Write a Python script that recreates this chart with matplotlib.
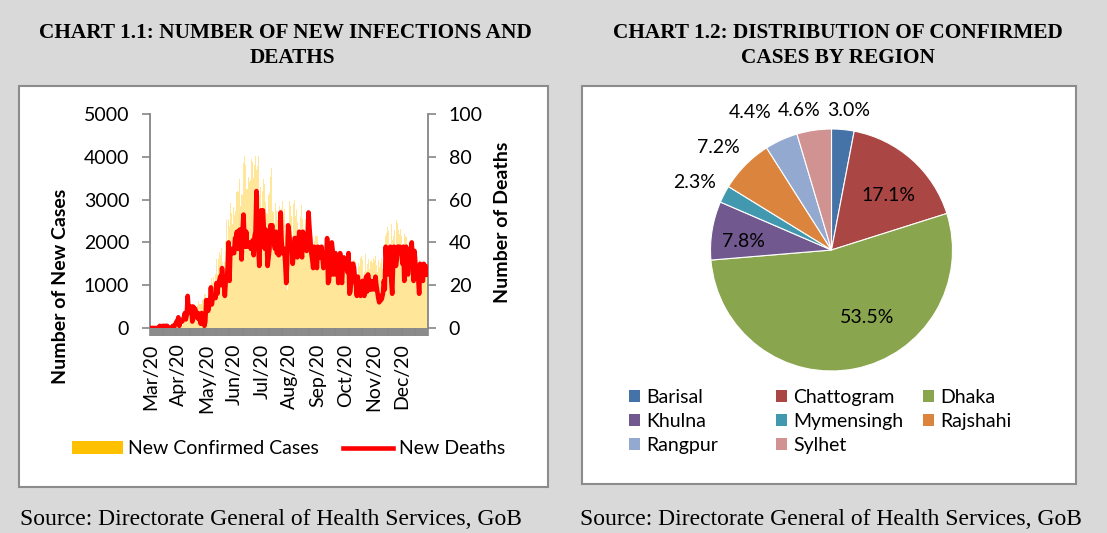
import numpy as np
import matplotlib
matplotlib.use("Agg")
import matplotlib.pyplot as plt
from matplotlib.patches import Rectangle, Patch
from matplotlib.lines import Line2D

plt.rcParams['font.family'] = ['Lato', 'DejaVu Sans']

# ---------------- data ----------------
month_labels = ["Mar/20", "Apr/20", "May/20", "Jun/20", "Jul/20",
                "Aug/20", "Sep/20", "Oct/20", "Nov/20", "Dec/20"]

cases_mar = [3, 0, 0, 0, 0, 0, 2, 0, 3, 2, 4, 3, 3, 7, 3, 6, 6, 0, 5, 4, 0, 0, 1, 2]
cases_apr = [3, 2, 5, 9, 18, 35, 41, 54, 112, 94, 58, 139, 182, 209, 219, 341, 266, 306, 312, 492,
             434, 390, 414, 503, 309, 418, 497, 549, 641, 564]
cases_may = [571, 552, 665, 688, 786, 790, 706, 709, 636, 887, 1034, 969, 1162, 1041, 1202, 930, 1273,
             1602, 1251, 1617, 1773, 1694, 1873, 1532, 1975, 1166, 1541, 2029, 2523, 1764, 2545]
cases_jun = [2381, 2911, 2695, 2423, 2828, 2635, 2743, 2735, 3171, 3190, 3187, 3471, 2856, 3141, 3099,
             3862, 4008, 3803, 3243, 3240, 3531, 3480, 3412, 3462, 3946, 3868, 3504, 3809, 4014, 3682]
cases_jul = [3775, 4019, 3114, 3288, 2738, 3201, 3027, 3489, 3360, 2949, 2686, 2666, 3099, 3163, 3533,
             3733, 2733, 2709, 2459, 2928, 3057, 2744, 2520, 2548, 2856, 2520, 2772, 2960, 2695, 2772, 2199]
cases_aug = [1356, 887, 1918, 2654, 2977, 2851, 2611, 1788, 2907, 2996, 2617, 2766, 2487, 1728, 2024,
             2595, 2868, 2747, 2547, 2265, 1935, 2545, 2485, 2545, 2519, 2211, 1897, 1950, 2131, 1950, 2024]
cases_sep = [2582, 2158, 2148, 2141, 1950, 1792, 1827, 1892, 1701, 1812, 1892, 1792, 1476, 1282, 1724,
             1615, 1615, 1593, 1544, 1557, 1705, 1666, 1640, 1488, 1407, 1182, 1502, 1488, 1488, 1436]
cases_oct = [1396, 1125, 1275, 1293, 1537, 1442, 1379, 1392, 1182, 1215, 1199, 1589, 1595, 1601, 1547,
             1100, 1244, 1523, 1458, 1637, 1692, 1586, 1114, 1308, 1735, 1335, 1493, 1469, 1604, 1370, 1568]
cases_nov = [1568, 1517, 1637, 1600, 1680, 1474, 1312, 1589, 1436, 1517, 1646, 1545, 1383, 1537, 1837,
             2139, 2212, 2364, 2275, 1847, 1699, 2419, 2060, 2156, 2293, 1966, 1532, 2525, 2444, 2293]
cases_dec = [2198, 2316, 2158, 1604, 1652, 2191, 2153, 2122, 1895, 1895, 1294, 1590, 1908, 1823, 1541,
             1362, 1584, 1329, 1655, 1318, 1423, 1584, 1394, 1198, 1222, 1300, 1480, 1275, 1250, 1411, 1314]

deaths_mar = [0, 0, 0, 0, 0, 0, 0, 0, 0, 0, 1, 0, 0, 1, 1, 0, 1, 1, 1, 0, 0, 0, 0, 0]
deaths_apr = [1, 0, 1, 2, 3, 3, 5, 1, 3, 3, 3, 4, 5, 7, 4, 6, 15, 9, 10, 7,
              10, 3, 10, 7, 9, 5, 7, 7, 4, 5]
deaths_may = [2, 7, 2, 4, 1, 3, 13, 13, 8, 11, 11, 19, 11, 14, 15, 15, 14, 21, 16, 21,
              22, 24, 20, 28, 21, 21, 15, 22, 23, 28, 40]
deaths_jun = [22, 37, 37, 35, 35, 35, 42, 42, 45, 37, 37, 46, 44, 32, 45, 53, 43, 38, 45, 38,
              39, 40, 39, 37, 39, 41, 34, 43, 45, 64]
deaths_jul = [41, 38, 29, 42, 55, 55, 55, 46, 37, 46, 41, 29, 33, 37, 48, 46, 48, 40, 39, 37,
              45, 35, 37, 34, 35, 54, 41, 35, 35, 37, 30]
deaths_aug = [21, 30, 48, 45, 40, 38, 38, 30, 35, 42, 42, 42, 33, 38, 45, 42, 36, 33, 45, 42,
              40, 38, 36, 42, 54, 47, 41, 35, 32, 28, 38]
deaths_sep = [32, 35, 28, 38, 36, 33, 35, 38, 33, 28, 30, 35, 33, 42, 21, 22, 30, 25, 40, 36,
              25, 30, 35, 25, 33, 21, 30, 35, 25, 21]
deaths_oct = [30, 33, 28, 31, 30, 26, 35, 16, 17, 24, 30, 30, 28, 22, 20, 15, 24, 18, 21, 15,
              20, 22, 17, 15, 22, 24, 17, 25, 20, 18, 22]
deaths_nov = [18, 20, 22, 18, 24, 20, 17, 14, 12, 15, 13, 14, 16, 22, 18, 38, 30, 36, 25, 30,
              38, 22, 16, 30, 38, 33, 29, 32, 38, 36]
deaths_dec = [38, 35, 37, 30, 38, 22, 30, 38, 33, 25, 30, 32, 36, 40, 33, 22, 36, 30, 25, 28,
              23, 16, 30, 29, 25, 22, 30, 25, 29, 27, 25]

regions = ["Barisal", "Chattogram", "Dhaka", "Khulna", "Mymensingh", "Rajshahi", "Rangpur", "Sylhet"]
shares = [3.0, 17.1, 53.5, 7.8, 2.3, 7.2, 4.4, 4.6]
region_colors = ["#4572A7", "#AA4643", "#89A54E", "#71588F", "#4198AF", "#DB843D", "#93A9CF", "#D19392"]

cases = np.array(cases_mar + cases_apr + cases_may + cases_jun + cases_jul +
                 cases_aug + cases_sep + cases_oct + cases_nov + cases_dec)
deaths = np.array(deaths_mar + deaths_apr + deaths_may + deaths_jun + deaths_jul +
                  deaths_aug + deaths_sep + deaths_oct + deaths_nov + deaths_dec)
days = np.arange(len(cases))

# ---------------- figure ----------------
W, H = 1107, 533
fig = plt.figure(figsize=(W / 100, H / 100), dpi=100, facecolor='#d9d9d9')


def fx(px):
    return px / W


def fy(py):
    return 1 - py / H


for (x0, y0, x1, y1) in [(19, 86, 548, 487), (582, 86, 1076, 484)]:
    fig.patches.append(Rectangle((fx(x0), fy(y1)), (x1 - x0) / W, (y1 - y0) / H,
                                 transform=fig.transFigure, facecolor='white',
                                 edgecolor='#8c8c8c', linewidth=1.5, zorder=-5))

serif = 'Liberation Serif'
tfs = 15.3
fig.text(fx(285), fy(33), 'CHART 1.1: NUMBER OF NEW INFECTIONS AND', ha='center', va='center',
         family=serif, weight='bold', fontsize=tfs)
fig.text(fx(292), fy(58), 'DEATHS', ha='center', va='center', family=serif, weight='bold', fontsize=tfs)
fig.text(fx(838), fy(33), 'CHART 1.2: DISTRIBUTION OF CONFIRMED', ha='center', va='center',
         family=serif, weight='bold', fontsize=tfs)
fig.text(fx(838), fy(58), 'CASES BY REGION', ha='center', va='center', family=serif, weight='bold',
         fontsize=tfs)
fig.text(fx(20), fy(525), 'Source: Directorate General of Health Services, GoB', ha='left',
         va='baseline', family=serif, fontsize=17)
fig.text(fx(580), fy(525), 'Source: Directorate General of Health Services, GoB', ha='left',
         va='baseline', family=serif, fontsize=17)

# ---------------- chart 1 ----------------
axc = '#868686'
ax = fig.add_axes([fx(150), fy(328), (428 - 150) / W, (328 - 114) / H])
ax.set_facecolor('none')
ax.bar(days, cases, width=1.0, color='#FFE699', linewidth=0, zorder=1)
ax.set_xlim(-0.5, len(days) - 0.5)
ax.set_ylim(0, 5000)
ax.set_yticks(range(0, 5001, 1000))
ax.set_xticks(days[::30][:len(month_labels)])
ax.set_xticklabels(month_labels, rotation=90)
ax.set_xticks(days, minor=True)
ax.tick_params(axis='x', which='both', length=6, width=1.2, color='#888888', direction='out')
ax.tick_params(axis='x', which='major', pad=5, labelsize=14)
ax.tick_params(axis='y', length=6, width=1.2, color=axc, pad=9, labelsize=14)
for s in ['top', 'right', 'bottom']:
    ax.spines[s].set_visible(False)
ax.spines['left'].set_color(axc)
ax.spines['left'].set_linewidth(1.3)

ax2 = ax.twinx()
ax2.plot(days, deaths, color='#FF0000', lw=3.3, solid_joinstyle='round', zorder=3)
ax2.set_ylim(0, 100)
ax2.set_yticks(range(0, 101, 20))
ax2.tick_params(axis='y', length=6, width=1.2, color=axc, pad=9, labelsize=14)
for s in ['top', 'left', 'bottom']:
    ax2.spines[s].set_visible(False)
ax2.spines['right'].set_color(axc)
ax2.spines['right'].set_linewidth(1.3)

fig.text(fx(60), fy(286), 'Number of New Cases', rotation=90, ha='center', va='center',
         fontweight='bold', fontsize=14)
fig.text(fx(503), fy(222), 'Number of Deaths', rotation=90, ha='center', va='center',
         fontweight='bold', fontsize=14)

h1 = [Patch(facecolor='#FFC000', edgecolor='none'), Line2D([], [], color='#FF0000', lw=3.3)]
fig.legend(h1, ['New Confirmed Cases', 'New Deaths'], ncol=2, loc='center left',
           bbox_to_anchor=(fx(72), fy(449)), frameon=False, handlelength=2.6, handleheight=0.6,
           handletextpad=0.3, columnspacing=1.2, borderpad=0, borderaxespad=0, fontsize=14)

# ---------------- chart 2 ----------------
R = 121
pax = fig.add_axes([fx(831.5 - R), fy(250 + R), 2 * R / W, 2 * R / H])
wedges, _ = pax.pie(shares, colors=region_colors, startangle=90, counterclock=False,
                    wedgeprops=dict(edgecolor='white', linewidth=0.8))
pax.set_xlim(-1, 1)
pax.set_ylim(-1, 1)
pax.set_aspect('equal')

label_r = [1.16, 0.65, 0.63, 0.73, 1.26, 1.26, 1.32, 1.18]
label_dtheta = [-1.6, -4.4, 16.7, 4.0, 1.1, 2.3, 6.2, 4.9]
for w, s, r, dt in zip(wedges, shares, label_r, label_dtheta):
    ang = np.deg2rad((w.theta1 + w.theta2) / 2 + dt)
    pax.text(r * np.cos(ang), r * np.sin(ang), f'{s:.1f}%', ha='center', va='center', fontsize=14)

col_x = [629, 776, 923]
cols = [[0, 3, 6], [1, 4, 7], [2, 5]]
for cx, idx in zip(col_x, cols):
    hs = [Patch(facecolor=region_colors[i], edgecolor='none') for i in idx]
    fig.legend(hs, [regions[i] for i in idx], loc='upper left', bbox_to_anchor=(fx(cx), fy(389)),
               frameon=False, handlelength=0.55, handleheight=0.55, handletextpad=0.35,
               labelspacing=0.36, borderpad=0, borderaxespad=0, fontsize=14)

fig.savefig('out.png', dpi=100, facecolor=fig.get_facecolor())
